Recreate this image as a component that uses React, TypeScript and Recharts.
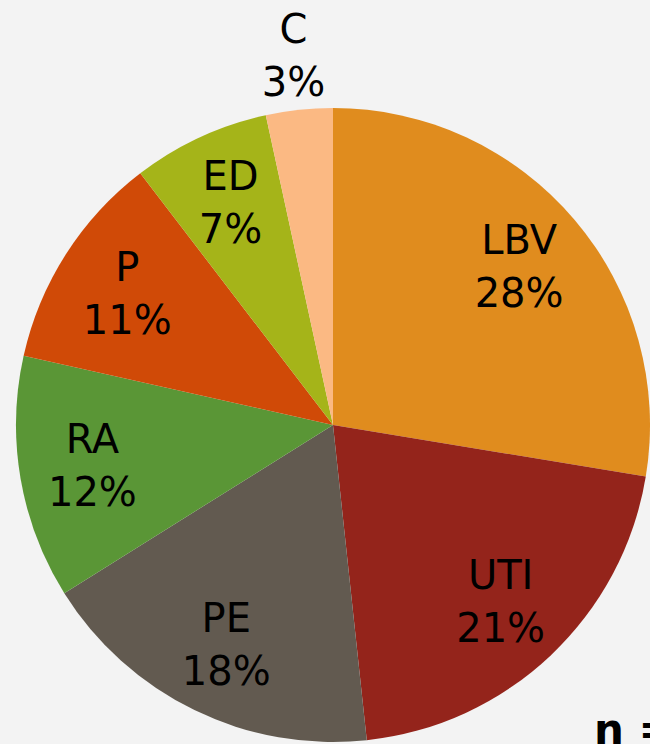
import React from "react";
import { PieChart, Pie, Cell } from "recharts";

const categories = ["LBV", "UTI", "PE", "RA", "P", "ED", "C"];
// slice sizes as measured from the wedges, and the rounded labels shown
const shares = [27.6, 20.7, 17.8, 12.4, 11.1, 7.0, 3.4];
const labels = ["28%", "21%", "18%", "12%", "11%", "7%", "3%"];
const colors = ["#E08C1E", "#94241B", "#625A50", "#5A9636", "#D04A07", "#A5B419", "#FBB983"];

const data = categories.map((name, i) => ({ name, value: shares[i], label: labels[i] }));

const RADIAN = Math.PI / 180;

const renderLabel = (props) => {
  const { cx, cy, midAngle, outerRadius, name, value, index } = props;
  // small slices get their label outside the pie, like the original
  const r = value < 5 ? outerRadius * 1.17 : outerRadius * 0.77;
  const x = cx + r * Math.cos(-midAngle * RADIAN);
  const y = cy + r * Math.sin(-midAngle * RADIAN);
  return (
    <text
      x={x}
      y={y}
      textAnchor="middle"
      fill="#000"
      fontFamily="DejaVu Sans"
      fontSize={40}
    >
      <tspan x={x} dy={-13}>{name}</tspan>
      <tspan x={x} dy={53}>{labels[index]}</tspan>
    </text>
  );
};

export default function App() {
  return (
    <div
      style={{
        position: "fixed",
        left: 0,
        top: 0,
        width: 650,
        height: 744,
        background: "#f3f3f3",
        overflow: "hidden",
      }}
    >
      <PieChart width={650} height={744} margin={{ top: 0, right: 0, bottom: 0, left: 0 }}>
        <Pie
          data={data}
          dataKey="value"
          nameKey="name"
          cx={333}
          cy={425}
          outerRadius={317}
          startAngle={90}
          endAngle={-270}
          stroke="none"
          label={renderLabel}
          labelLine={false}
          isAnimationActive={false}
        >
          {data.map((d, i) => (
            <Cell key={d.name} fill={colors[i]} />
          ))}
        </Pie>
      </PieChart>
      <div
        style={{
          position: "absolute",
          left: 594,
          top: 705,
          fontFamily: "DejaVu Sans",
          fontWeight: "bold",
          fontSize: 42,
          color: "#000",
          whiteSpace: "nowrap",
        }}
      >
        n =
      </div>
    </div>
  );
}
